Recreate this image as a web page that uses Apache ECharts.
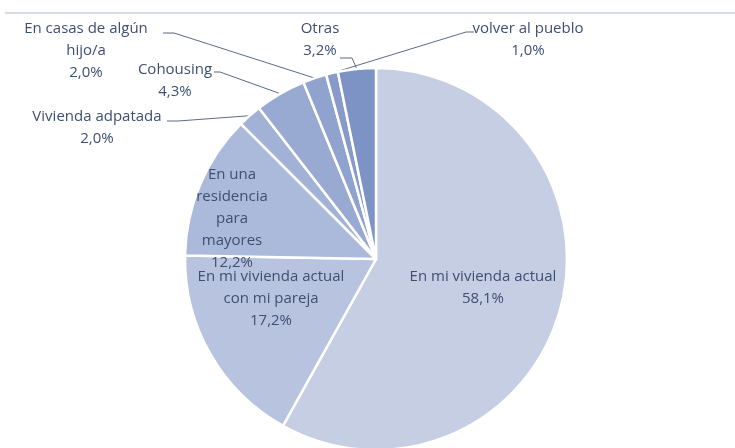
<!DOCTYPE html>
<html lang="es">
<head>
<meta charset="utf-8">
<title>Dónde vivir</title>
<script src="https://cdn.jsdelivr.net/npm/echarts@6/dist/echarts.min.js"></script>
<style>
  html, body { margin: 0; padding: 0; background: #fff; }
  #chart { width: 735px; height: 448px; }
</style>
</head>
<body>
<div id="chart"></div>
<script>
// data, clockwise from 12 o'clock
var categories = [
  'En mi vivienda actual',
  'En mi vivienda actual\ncon mi pareja',
  'En una\nresidencia\npara\nmayores',
  'Vivienda adpatada',
  'Cohousing',
  'En casas de algún\nhijo/a',
  'volver al pueblo',
  'Otras'
];
var values = [58.1, 17.2, 12.2, 2.0, 4.3, 2.0, 1.0, 3.2];
var colors = ['#c5cee3', '#b8c4df', '#abb9da', '#a2b1d6', '#99aad2', '#90a2ce', '#879aca', '#7d92c5'];

// label anchor [centre x, top y] and leader elbow [start x, end x, y]
var labelPos = [
  [483, 266], [271, 266], [232, 164], [97, 106],
  [175, 59], [86, 18], [528, 18], [320, 18]
];
var leaders = [
  null, null, null,
  [167, 178, 121],
  [214, 220, 72],
  [163, 174, 33],
  [474, 466, 32],
  [340, 352, 58]
];

var chart = echarts.init(document.getElementById('chart'));

chart.setOption({
  animation: false,
  graphic: [{
    type: 'line',
    shape: { x1: 5, y1: 13, x2: 735, y2: 13 },
    style: { stroke: '#c9d1dd', lineWidth: 1.5 }
  }],
  series: [{
    type: 'pie',
    center: [376, 259],
    radius: 191,
    startAngle: 90,
    clockwise: true,
    avoidLabelOverlap: false,
    itemStyle: { borderColor: '#fff', borderWidth: 2.5 },
    label: {
      show: true,
      position: 'outside',
      color: '#3d4f73',
      fontFamily: 'Open Sans',
      fontSize: 15,
      lineHeight: 22,
      formatter: function (p) {
        return p.name + '\n' + p.value.toFixed(1).replace('.', ',') + '%';
      }
    },
    labelLine: {
      show: true,
      length: 10,
      length2: 10,
      lineStyle: { color: '#5b6b84', width: 1 }
    },
    labelLayout: function (params) {
      var i = params.dataIndex;
      var out = {
        x: labelPos[i][0],
        y: labelPos[i][1],
        align: 'center',
        verticalAlign: 'top'
      };
      var l = leaders[i];
      if (l && params.labelLinePoints) {
        var p0 = params.labelLinePoints[0];
        out.labelLinePoints = [p0, [l[1], l[2]], [l[0], l[2]]];
      }
      return out;
    },
    data: categories.map(function (name, i) {
      var d = { name: name, value: values[i], itemStyle: { color: colors[i] } };
      if (i < 3) {
        d.label = { position: 'inside' };
        d.labelLine = { show: false };
      }
      return d;
    })
  }]
});
</script>
</body>
</html>
